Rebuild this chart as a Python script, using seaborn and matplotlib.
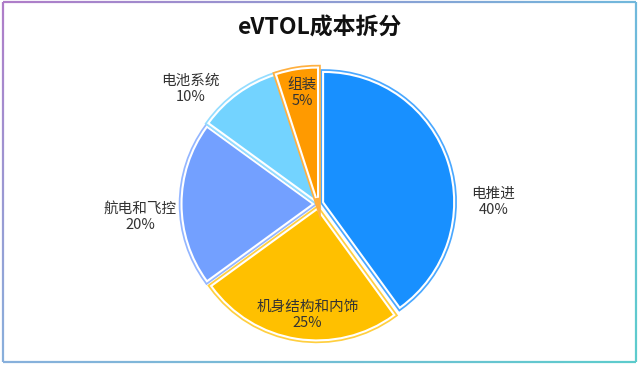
import numpy as np
import matplotlib.pyplot as plt
import matplotlib.patheffects as pe
from matplotlib.collections import LineCollection
from matplotlib.colors import to_rgb
import seaborn as sns

title = "eVTOL成本拆分"
categories = ["电推进", "机身结构和内饰", "航电和飞控", "电池系统", "组装"]
shares = [40, 25, 20, 10, 5]

colors = ["#1890ff", "#ffc000", "#73a0ff", "#73d3ff", "#ff9a00"]
edge_colors = ["#4aa8ff", "#ffcf40", "#94b6ff", "#94ddff", "#ffb040"]
# label placement: radius (in pie radii) and angle shift from wedge middle
label_radius = [1.36, 0.86, 1.38, 1.33, 0.87]
label_shift = [-17.4, 3.5, 4, 12, -1]

sns.set_theme(style="white")
plt.rcParams["font.family"] = ["Noto Sans CJK SC", "DejaVu Sans"]

W, H = 640, 365
cx, cy, R = 318, 204, 129  # pie centre and radius in pixels

fig = plt.figure(figsize=(W / 100, H / 100), dpi=100)
ax = fig.add_axes([0, 0, 1, 1])

wedges, _ = ax.pie(shares, colors=colors, startangle=90, counterclock=False,
                   explode=[0.05] * len(shares), radius=1,
                   wedgeprops=dict(linewidth=0))
for w, ec in zip(wedges, edge_colors):
    w.set_path_effects([pe.Stroke(linewidth=5.5, foreground=ec),
                        pe.Stroke(linewidth=3.0, foreground="white"),
                        pe.Normal()])

for w, name, val, lr, sh in zip(wedges, categories, shares, label_radius, label_shift):
    mid = np.deg2rad((w.theta1 + w.theta2) / 2 + sh)
    ax.text(lr * np.cos(mid), lr * np.sin(mid), f"{name}\n{val}%",
            ha="center", va="center", fontsize=10.5, color="#333333",
            linespacing=1.2)

ax.set_aspect("auto")
ax.set_xlim(-cx / R, (W - cx) / R)
ax.set_ylim(-(H - cy) / R, cy / R)
ax.axis("off")

fig.text(0.5, 1 - 28 / H, title, ha="center", va="center",
         fontsize=16.5, fontweight="bold", color="#111111")

# gradient frame around the figure
tl, tr, bl, br = (np.array(to_rgb(c)) for c in ["#b07cc8", "#70b8dc", "#88b0dc", "#5ccccc"])
def frame_color(x, y):
    u, v = x / W, y / H
    return (1 - u) * (1 - v) * tl + u * (1 - v) * tr + (1 - u) * v * bl + u * v * br

x0, x1, y0, y1 = 3, 636, 1.5, 362
corners = [(x0, y0), (x1, y0), (x1, y1), (x0, y1), (x0, y0)]
segs, cols = [], []
for (ax0, ay0), (ax1, ay1) in zip(corners[:-1], corners[1:]):
    t = np.linspace(0, 1, 80)
    xs, ys = ax0 + (ax1 - ax0) * t, ay0 + (ay1 - ay0) * t
    for i in range(len(t) - 1):
        segs.append([(xs[i] / W, 1 - ys[i] / H), (xs[i + 1] / W, 1 - ys[i + 1] / H)])
        cols.append(frame_color((xs[i] + xs[i + 1]) / 2, (ys[i] + ys[i + 1]) / 2))
fig.add_artist(LineCollection(segs, colors=cols, linewidths=1.6,
                              transform=fig.transFigure))

fig.savefig("out.png", dpi=100)
